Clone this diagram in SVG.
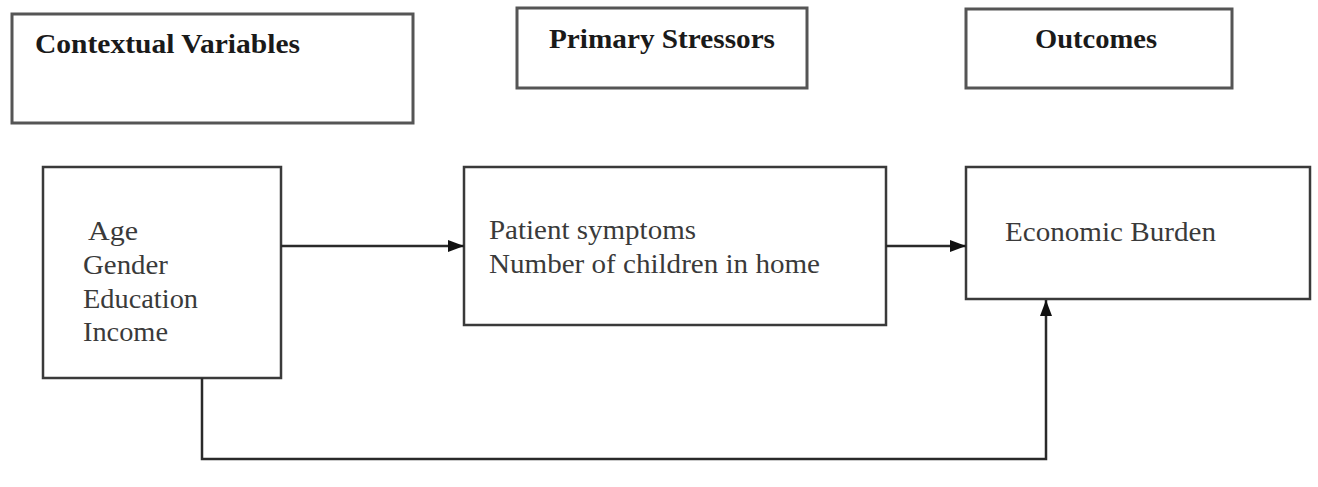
<svg xmlns="http://www.w3.org/2000/svg" width="1318" height="487" viewBox="0 0 1318 487">
<style>
.box{fill:#fff;stroke:#3a3a3a;stroke-width:2.5}
.hbox{fill:#fff;stroke:#555;stroke-width:3}
.h{font-family:"Liberation Serif",serif;font-weight:bold;font-size:28px;fill:#1a1a1a}
.t{font-family:"Liberation Serif",serif;font-size:27px;fill:#3a3a3a}
.c{fill:none;stroke:#2a2a2a;stroke-width:2.5}
</style>
<defs>
<marker id="ah" markerWidth="16" markerHeight="12" refX="16" refY="6" orient="auto" markerUnits="userSpaceOnUse">
<path d="M0,0 L16,6 L0,12 Z" fill="#111"/>
</marker>
</defs>
<rect width="1318" height="487" fill="#fff"/>
<g id="contextual-header">
<rect class="hbox" x="12" y="14" width="401" height="109"/>
<text class="h" x="35" y="53" textLength="265" lengthAdjust="spacingAndGlyphs">Contextual Variables</text>
</g>
<g id="primary-header">
<rect class="hbox" x="517" y="8" width="290" height="80"/>
<text class="h" x="549" y="48" textLength="226" lengthAdjust="spacingAndGlyphs">Primary Stressors</text>
</g>
<g id="outcomes-header">
<rect class="hbox" x="966" y="9" width="266" height="79"/>
<text class="h" x="1035" y="48" textLength="122" lengthAdjust="spacingAndGlyphs">Outcomes</text>
</g>
<g id="contextual">
<rect class="box" x="43" y="167" width="238" height="211"/>
<text class="t" x="88" y="240" textLength="50" lengthAdjust="spacingAndGlyphs">Age</text>
<text class="t" x="83" y="274" textLength="85" lengthAdjust="spacingAndGlyphs">Gender</text>
<text class="t" x="83" y="308" textLength="115" lengthAdjust="spacingAndGlyphs">Education</text>
<text class="t" x="83" y="341" textLength="85" lengthAdjust="spacingAndGlyphs">Income</text>
</g>
<g id="stressors">
<rect class="box" x="464" y="167" width="422" height="158"/>
<text class="t" x="489" y="239" textLength="207" lengthAdjust="spacingAndGlyphs">Patient symptoms</text>
<text class="t" x="489" y="273" textLength="331" lengthAdjust="spacingAndGlyphs">Number of children in home</text>
</g>
<g id="outcomes">
<rect class="box" x="966" y="167" width="344" height="132"/>
<text class="t" x="1005" y="241" textLength="211" lengthAdjust="spacingAndGlyphs">Economic Burden</text>
</g>
<g id="connectors">
<line class="c" x1="281" y1="246" x2="464" y2="246" marker-end="url(#ah)"/>
<line class="c" x1="886" y1="246" x2="966" y2="246" marker-end="url(#ah)"/>
<polyline class="c" points="202,378 202,459 1046,459 1046,300" marker-end="url(#ah)"/>
</g>
</svg>
